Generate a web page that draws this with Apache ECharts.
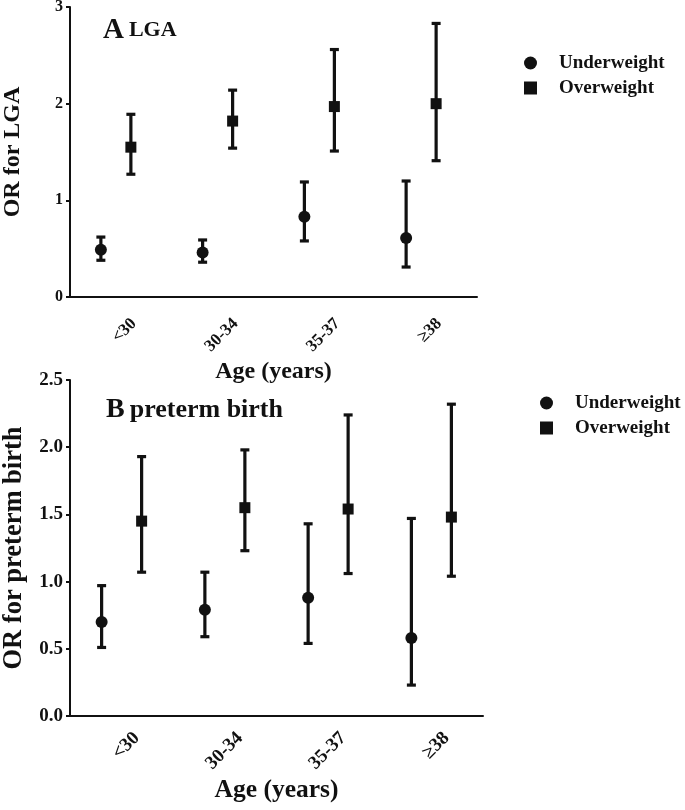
<!DOCTYPE html>
<html>
<head>
<meta charset="utf-8">
<script src="https://cdn.jsdelivr.net/npm/echarts@6/dist/echarts.min.js"></script>
<style>html,body{margin:0;padding:0;background:#fff}#c{width:685px;height:810px}</style>
</head>
<body>
<div id="c"></div>
<script>
const categories = ['<30', '30-34', '35-37', '\u226538'];

const lgaUnderOR = [0.49, 0.46, 0.83, 0.61];
const lgaUnderLow = [0.38, 0.36, 0.58, 0.31];
const lgaUnderHigh = [0.62, 0.59, 1.19, 1.20];
const lgaOverOR = [1.55, 1.82, 1.97, 2.00];
const lgaOverLow = [1.27, 1.54, 1.51, 1.41];
const lgaOverHigh = [1.89, 2.14, 2.56, 2.83];

const ptUnderOR = [0.70, 0.79, 0.88, 0.58];
const ptUnderLow = [0.51, 0.59, 0.54, 0.23];
const ptUnderHigh = [0.97, 1.07, 1.43, 1.47];
const ptOverOR = [1.45, 1.55, 1.54, 1.48];
const ptOverLow = [1.07, 1.23, 1.06, 1.04];
const ptOverHigh = [1.93, 1.98, 2.24, 2.32];

const lgaTicks = [0, 1, 2, 3];
const ptTicks = [0.0, 0.5, 1.0, 1.5, 2.0, 2.5];

const FONT = "'Liberation Serif','Times New Roman',serif";
const INK = '#111';

function errData(low, high) {
  return categories.map((c, i) => [i, low[i], high[i]]);
}
function ptData(v) {
  return categories.map((c, i) => [i, v[i]]);
}
function errSeries(name, idx, low, high, dx) {
  return {
    name: name, type: 'custom', xAxisIndex: idx, yAxisIndex: idx,
    data: errData(low, high), encode: { x: 0, y: [1, 2] }, z: 2,
    renderItem: function (params, api) {
      const a = api.coord([api.value(0), api.value(1)]);
      const b = api.coord([api.value(0), api.value(2)]);
      const x = a[0] + dx, cw = 4.5;
      const st = { stroke: INK, lineWidth: 3.2 };
      return {
        type: 'group', children: [
          { type: 'line', shape: { x1: x, y1: a[1], x2: x, y2: b[1] }, style: st },
          { type: 'line', shape: { x1: x - cw, y1: a[1], x2: x + cw, y2: a[1] }, style: st },
          { type: 'line', shape: { x1: x - cw, y1: b[1], x2: x + cw, y2: b[1] }, style: st }
        ]
      };
    }
  };
}
function ptSeries(name, idx, v, dx, sym, size) {
  return {
    name: name, type: 'scatter', xAxisIndex: idx, yAxisIndex: idx,
    data: ptData(v), symbol: sym, symbolSize: size, symbolOffset: [dx, 0], z: 5,
    itemStyle: { color: INK, opacity: 1 }
  };
}
function xAx(idx, gap, nameSize, labSize, margin, padTop) {
  return {
    type: 'category', gridIndex: idx, data: categories, boundaryGap: true,
    name: 'Age (years)', nameLocation: 'middle', nameGap: gap,
    nameTextStyle: { fontFamily: FONT, fontWeight: 'bold', fontSize: nameSize, color: INK },
    axisLine: { lineStyle: { color: INK, width: 2 } },
    axisTick: { alignWithLabel: true, length: 5, lineStyle: { color: INK, width: 2 } },
    axisLabel: { rotate: 45, margin: margin, verticalAlign: 'top', padding: [padTop, 0, 0, 0],
      fontFamily: FONT, fontWeight: 'bold', fontSize: labSize, color: INK },
    splitLine: { show: false }
  };
}
function yAx(idx, name, ticks, gap, dec, nameSize, labSize) {
  return {
    type: 'value', gridIndex: idx, min: ticks[0], max: ticks[ticks.length - 1],
    interval: ticks[1] - ticks[0],
    name: name, nameLocation: 'middle', nameGap: gap,
    nameTextStyle: { fontFamily: FONT, fontWeight: 'bold', fontSize: nameSize, color: INK },
    axisLine: { show: true, lineStyle: { color: INK, width: 2 } },
    axisTick: { show: true, length: 4, lineStyle: { color: INK, width: 2 } },
    axisLabel: { margin: 7, fontFamily: FONT, fontWeight: 'bold', fontSize: labSize, color: INK,
      formatter: v => v.toFixed(dec) },
    splitLine: { show: false }
  };
}
function legend(left, top) {
  return {
    orient: 'vertical', left: left, top: top, itemWidth: 13, itemHeight: 13, itemGap: 5,
    data: [{ name: 'Underweight', icon: 'circle' }, { name: 'Overweight', icon: 'rect' }],
    textStyle: { fontFamily: FONT, fontWeight: 'bold', fontSize: 19, color: INK, lineHeight: 20,
      padding: [0, 0, 0, 17] },
    itemStyle: { color: INK }
  };
}

const chart = echarts.init(document.getElementById('c'), null, { renderer: 'canvas' });
chart.setOption({
  backgroundColor: '#fff',
  animation: false,
  title: [
    { text: '{a|A} {b|LGA}', left: 98, top: 11,
      textStyle: { rich: {
        a: { fontFamily: FONT, fontWeight: 'bold', fontSize: 29, color: INK },
        b: { fontFamily: FONT, fontWeight: 'bold', fontSize: 22, color: INK } } } },
    { text: '{a|B} {b|preterm birth}', left: 101, top: 391,
      textStyle: { rich: {
        a: { fontFamily: FONT, fontWeight: 'bold', fontSize: 28, color: INK },
        b: { fontFamily: FONT, fontWeight: 'bold', fontSize: 26, color: INK } } } }
  ],
  legend: [legend(519, 48), legend(535, 388)],
  grid: [
    { left: 70, top: 7, width: 407, height: 290, containLabel: false, outerBoundsMode: 'none' },
    { left: 70, top: 380, width: 413, height: 336, containLabel: false, outerBoundsMode: 'none' }
  ],
  xAxis: [xAx(0, 63, 24, 17, 11, 10), xAx(1, 61, 25.5, 19, 4, 12)],
  yAxis: [yAx(0, 'OR for LGA', lgaTicks, 45, 0, 24, 16),
          yAx(1, 'OR for preterm birth', ptTicks, 42, 1, 26.5, 19)],
  series: [
    errSeries('Underweight CI', 0, lgaUnderLow, lgaUnderHigh, -20),
    errSeries('Overweight CI', 0, lgaOverLow, lgaOverHigh, 10),
    ptSeries('Underweight', 0, lgaUnderOR, -20, 'circle', 12),
    ptSeries('Overweight', 0, lgaOverOR, 10, 'rect', 11),
    errSeries('Underweight CI', 1, ptUnderLow, ptUnderHigh, -20),
    errSeries('Overweight CI', 1, ptOverLow, ptOverHigh, 20),
    ptSeries('Underweight', 1, ptUnderOR, -20, 'circle', 12),
    ptSeries('Overweight', 1, ptOverOR, 20, 'rect', 11)
  ]
});
</script>
</body>
</html>
